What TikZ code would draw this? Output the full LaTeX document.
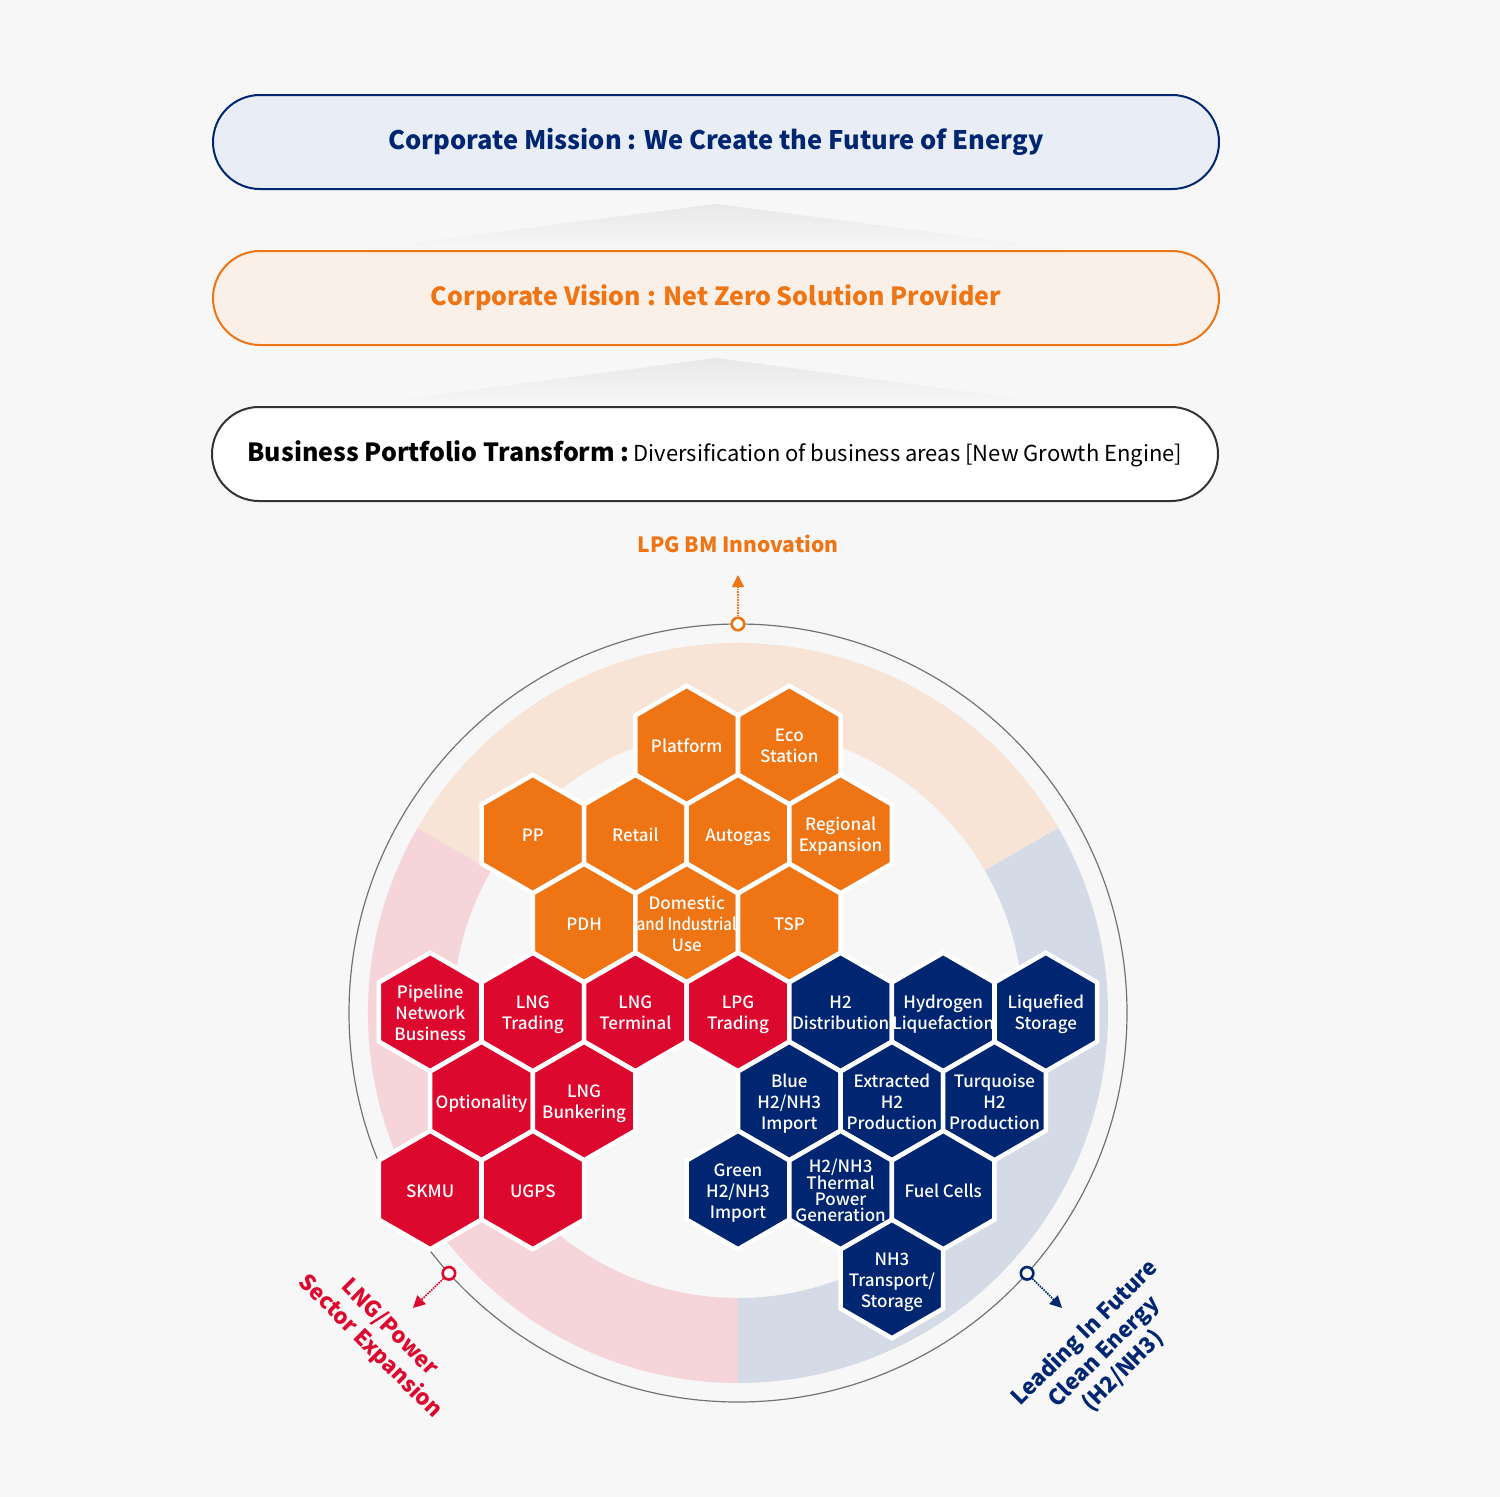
\documentclass[tikz,border=0pt]{standalone}
\usepackage{fontspec}
\setmainfont{Noto Sans CJK KR}
\newfontfamily\hexfont{Noto Sans CJK KR}[UprightFont=* Medium]
\usetikzlibrary{shapes.geometric,arrows.meta,calc}

\definecolor{bgGray}{RGB}{247,247,247}
\definecolor{skNavy}{RGB}{0,38,113}
\definecolor{skRed}{RGB}{220,8,46}
\definecolor{skOrange}{RGB}{238,116,20}
\definecolor{missionFill}{RGB}{233,238,246}
\definecolor{visionFill}{RGB}{251,240,232}
\definecolor{ringPeach}{RGB}{247,228,214}
\definecolor{ringPink}{RGB}{245,212,218}
\definecolor{ringBlue}{RGB}{213,219,230}

\newcommand\hexstrut{\rule[-7pt]{0pt}{20pt}}
\newcommand\fixedlines{\lineskiplimit-50pt\relax}

\tikzset{
  pill/.style={rounded corners=47pt, minimum width=1006pt, minimum height=94pt, line width=2pt, inner sep=0pt},
  hexa/.style={regular polygon, regular polygon sides=6, shape border rotate=30, minimum size=118.4pt, inner sep=0pt, draw=white, line width=4.5pt},
  hextext/.style={text=white, align=center, font=\hexfont\fontsize{17}{21}\selectfont\fixedlines, inner sep=0pt, yshift=-4pt},
  tighttext/.style={hextext, font=\hexfont\fontsize{17}{16.3}\selectfont\fixedlines},
  marker/.style={circle, draw, fill=white, line width=2.6pt, minimum size=12.5pt, inner sep=0pt},
  dotarrow/.style={densely dotted, line width=1.6pt, -{Triangle[length=12pt,width=12pt]}},
  sidelabel/.style={font=\bfseries\fontsize{22}{27}\selectfont, align=center, inner sep=0pt},
}

\begin{document}
\begin{tikzpicture}[x=1pt, y=1pt]

  \fill[bgGray] (0,0) rectangle (1500,-1497);
  \useasboundingbox (0,0) rectangle (1500,-1497);

  % Shadows between the boxes
  \shade[top color=black!9, bottom color=bgGray] (716,-204) -- (1069,-250) -- (359,-250) -- cycle;
  \shade[top color=black!9, bottom color=bgGray] (716,-358) -- (1069,-405) -- (359,-405) -- cycle;

  % Top boxes
  \node[pill, draw=skNavy, fill=missionFill, text=skNavy, font=\bfseries\fontsize{25.5}{30}\selectfont] (mission) at (716,-142) {Corporate Mission : We Create the Future of Energy};
  \node[pill, draw=skOrange, fill=visionFill, text=skOrange, font=\bfseries\fontsize{25}{30}\selectfont] (vision) at (716,-298) {Corporate Vision : Net Zero Solution Provider};
  \node[pill, draw=black!80, fill=white] (portfolio) at (715,-454) {{\bfseries\fontsize{25}{30}\selectfont Business Portfolio Transform :}\hspace{4pt}\fontsize{22}{26}\selectfont Diversification of business areas [New Growth Engine]};

  % Ring
  \coordinate (c) at (738,-1013);
  \fill[ringPeach] ($(c)+(30:370)$) arc[start angle=30, end angle=150, radius=370] -- ($(c)+(150:285)$) arc[start angle=150, end angle=30, radius=285] -- cycle;
  \fill[ringPink] ($(c)+(150:370)$) arc[start angle=150, end angle=270, radius=370] -- ($(c)+(270:285)$) arc[start angle=270, end angle=150, radius=285] -- cycle;
  \fill[ringBlue] ($(c)+(270:370)$) arc[start angle=270, end angle=390, radius=370] -- ($(c)+(30:285)$) arc[start angle=390, end angle=270, radius=285] -- cycle;
  \draw[black!55, line width=1.2pt] (c) circle[radius=389];

  % Hexagons
  \def\hexlist{
    -1/-3/skOrange/platform/hextext/{Platform},
    1/-3/skOrange/eco/hextext/{Eco\\Station},
    -4/-2/skOrange/pp/hextext/{PP},
    -2/-2/skOrange/retail/hextext/{Retail},
    0/-2/skOrange/autogas/hextext/{Autogas},
    2/-2/skOrange/regional/hextext/{Regional\\Expansion},
    -3/-1/skOrange/pdh/hextext/{PDH},
    -1/-1/skOrange/domestic/hextext/{Domestic\\\scalebox{0.88}[1]{and Industrial}\\Use},
    1/-1/skOrange/tsp/hextext/{TSP},
    -6/0/skRed/pipeline/hextext/{Pipeline\\Network\\Business},
    -4/0/skRed/lngtrading/hextext/{LNG\\Trading},
    -2/0/skRed/lngterminal/hextext/{LNG\\Terminal},
    0/0/skRed/lpgtrading/hextext/{LPG\\Trading},
    2/0/skNavy/distribution/hextext/{H2\\Distribution},
    4/0/skNavy/liquefaction/hextext/{Hydrogen\\Liquefaction},
    6/0/skNavy/liqstorage/hextext/{Liquefied\\Storage},
    -5/1/skRed/optionality/hextext/{Optionality},
    -3/1/skRed/bunkering/hextext/{LNG\\Bunkering},
    1/1/skNavy/blue/hextext/{Blue\\H2/NH3\\Import},
    3/1/skNavy/extracted/hextext/{Extracted\\H2\\Production},
    5/1/skNavy/turquoise/hextext/{Turquoise\\H2\\Production},
    -6/2/skRed/skmu/hextext/{SKMU},
    -4/2/skRed/ugps/hextext/{UGPS},
    0/2/skNavy/green/hextext/{Green\\H2/NH3\\Import},
    2/2/skNavy/thermal/tighttext/{H2/NH3\\Thermal\\Power\\Generation},
    4/2/skNavy/fuelcells/hextext/{Fuel Cells},
    3/3/skNavy/transport/hextext/{NH3\\Transport/\\Storage}}
  \foreach \c/\r/\col/\nm/\sty/\txt in \hexlist
    \node[hexa, fill=\col] (hex-\nm) at (738+51.3*\c, -1012-89*\r) {};
  \foreach \c/\r/\col/\nm/\sty/\txt in \hexlist
    \node[\sty] (txt-\nm) at (hex-\nm) {\hexstrut\txt\hexstrut};

  % Direction markers and arrows
  \node[marker, draw=skOrange] (mk-lpg) at ($(c)+(90:389)$) {};
  \node[marker, draw=skRed] (mk-lng) at ($(c)+(222:389)$) {};
  \node[marker, draw=skNavy] (mk-h2) at ($(c)+(318:389)$) {};
  \coordinate (tip-lpg) at (738,-575);
  \coordinate (tip-lng) at (413,-1308);
  \coordinate (tip-h2) at (1062,-1308);
  \draw[dotarrow, skOrange] (mk-lpg) -- (tip-lpg);
  \draw[dotarrow, skRed] (mk-lng) -- (tip-lng);
  \draw[dotarrow, skNavy] (mk-h2) -- (tip-h2);

  % Labels
  \node[sidelabel, text=skOrange, font=\bfseries\fontsize{21}{27}\selectfont] (lbl-lpg) at (738,-544) {LPG BM Innovation};
  \node[sidelabel, text=skRed, rotate=-45] (lbl-lng) at (380,-1337) {LNG/Power\\Sector Expansion};
  \node[sidelabel, text=skNavy, rotate=45] (lbl-h2) at (1104,-1352) {Leading In Future\\Clean Energy\\(H2/NH3)};

\end{tikzpicture}
\end{document}
